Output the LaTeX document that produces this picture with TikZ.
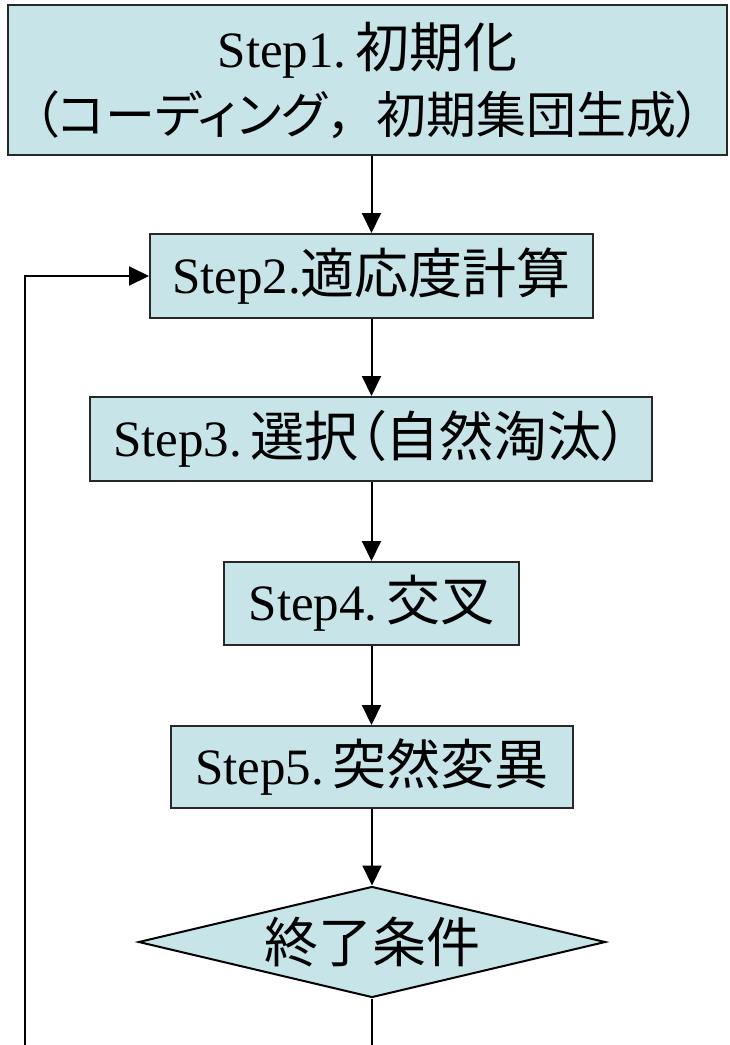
\documentclass[tikz,border=0pt]{standalone}
\usepackage{fontspec}
\setmainfont{Liberation Serif}
\newfontfamily\jp[RawFeature=+palt]{Noto Sans CJK JP}
\usetikzlibrary{arrows.meta,shapes.geometric}
\definecolor{boxfill}{RGB}{199,228,232}
\definecolor{boxline}{RGB}{40,40,40}
\newcommand{\jpt}[1]{{\fontsize{54}{66}\selectfont\jp #1}}
\tikzset{
  stepbox/.style={draw=boxline,fill=boxfill,line width=2pt,inner sep=0pt,align=center,
    font=\fontsize{51}{68}\selectfont},
  decide/.style={diamond,draw=black,fill=boxfill,line width=2pt,inner sep=0pt,aspect=4.2,
    minimum width=467pt,minimum height=111pt,font=\fontsize{54}{60}\selectfont\jp},
  flow/.style={line width=2pt,-{Triangle[length=20pt,width=19pt]}},
  plain/.style={line width=2pt}
}
\begin{document}
\begin{tikzpicture}[x=1pt,y=-1pt]
\useasboundingbox (0,0) rectangle (729,1045);
\node[stepbox,minimum width=719pt,minimum height=150pt] (b1) at (367.5,80)
  {Step1.\,\jpt{初期化}\\[-2pt]{\fontsize{50}{60}\selectfont\jp （コーディング{\addfontfeature{RawFeature=-palt}，}初期集団生成）}};
\node[stepbox,minimum width=443pt,minimum height=84pt] (b2) at (371.5,276) {Step2.\jpt{適応度計算}};
\node[stepbox,minimum width=562pt,minimum height=84pt] (b3) at (371,439) {Step3.\,\jpt{選択（自然淘汰）}};
\node[stepbox,minimum width=295pt,minimum height=83pt] (b4) at (371.5,603.5) {Step4.\,\jpt{交叉}};
\node[stepbox,minimum width=402pt,minimum height=82pt] (b5) at (372,767) {Step5.\,\jpt{突然変異}};
\node[decide] (d) at (372,942) {終了条件};
\coordinate (lb) at (25,1045);
\coordinate (db) at (372,1045);
\draw[flow] (b2.north |- b1.south) -- (b2.north);
\draw[flow] (b2.south) -- (b3.north -| b2.south);
\draw[flow] (b3.south -| b2.south) -- (b4.north -| b2.south);
\draw[flow] (b4.south -| b2.south) -- (b5.north -| b2.south);
\draw[flow] (b5.south) -- (d.north);
\draw[plain] (d.south) -- (db);
\draw[flow] (lb) |- (b2.west);
\end{tikzpicture}
\end{document}
